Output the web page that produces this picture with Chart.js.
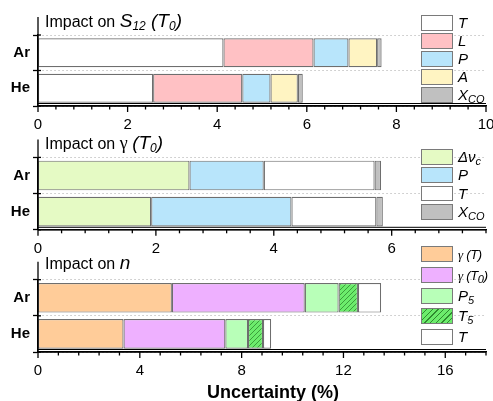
<!DOCTYPE html>
<html>
<head>
<meta charset="utf-8">
<script src="https://cdn.jsdelivr.net/npm/chart.js@4.4.0/dist/chart.umd.min.js"></script>
<style>
    body { margin: 0; background: #fff; width: 493px; height: 401px; position: relative; overflow: hidden; font-family: "Liberation Sans", Arial, sans-serif; }
    .panel { position: absolute; left: 0; }
    .titulo { position: absolute; left: 45px; font-size: 16px; line-height: 16px; white-space: nowrap; color: #000; }
    .titulo i { font-size: 19px; }
    .titulo sub { font-size: 12px; vertical-align: -3px; line-height: 0; }
    .item sub { font-size: 11px; vertical-align: -3px; line-height: 0; }
    .gam { font-family: "Liberation Serif", "DejaVu Serif", serif; }
    .titulo .gam { font-size: 18px; }
    .leyenda { position: absolute; left: 421px; top: 0; }
    .item { position: absolute; left: 0; white-space: nowrap; font-style: italic; font-size: 15px; color: #000; }
    .item .chico { font-size: 13px; letter-spacing: -0.3px; }
    .caja { position: absolute; left: 0; top: 0; width: 32px; border: 1.3px solid #7a7a7a; box-sizing: border-box; }
    .txt { position: absolute; left: 37px; top: 0; }
    #xtitulo { position: absolute; left: 207px; top: 383px; font-size: 18px; line-height: 18px; font-weight: bold; white-space: nowrap; }
</style>
</head>
<body>
<canvas id="g1" class="panel" width="493" height="130" style="top:0px"></canvas>
<canvas id="g2" class="panel" width="493" height="125" style="top:130px"></canvas>
<canvas id="g3" class="panel" width="493" height="146" style="top:255px"></canvas>

<div class="titulo" style="top:13px">Impact on <i>S<sub>12</sub> (T<sub>0</sub>)</i></div>
<div class="titulo" style="top:135px">Impact on <span class="gam">γ</span> <i>(T<sub>0</sub>)</i></div>
<div class="titulo" style="top:255px">Impact on <i>n</i></div>
<div id="xtitulo">Uncertainty (%)</div>

<div id="ley1" class="leyenda"></div>
<div id="ley2" class="leyenda"></div>
<div id="ley3" class="leyenda"></div>

<script>
var fuente = '"Liberation Sans", Arial, sans-serif';
var categorias = ['Ar', 'He'];

//IMPACTO EN S12 (T0)
var s12Nombres = ['T', 'L', 'P', 'A', 'X<sub>CO</sub>'];
var s12Colores = ['#ffffff', '#ffc1c4', '#b8e5fb', '#fff4c2', '#c0c0c0'];
var s12Ar = [4.14, 2.01, 0.78, 0.64, 0.10];
var s12He = [2.57, 1.99, 0.63, 0.61, 0.11];
var s12Ticks = [0, 2, 4, 6, 8, 10];

//IMPACTO EN GAMMA (T0)
var gamNombres = ['Δν<sub>c</sub>', 'P', 'T', 'X<sub>CO</sub>'];
var gamColores = ['#e5fac4', '#b8e5fb', '#ffffff', '#c0c0c0'];
var gamAr = [2.57, 1.26, 1.88, 0.11];
var gamHe = [1.92, 2.38, 1.44, 0.11];
var gamTicks = [0, 2, 4, 6];

//IMPACTO EN n
var nNombres = ['<span class="chico"><span class="gam">γ</span> (T)</span>', '<span class="chico"><span class="gam">γ</span> (T<sub>0</sub>)</span>', 'P<sub>5</sub>', 'T<sub>5</sub>', 'T'];
var nColores = ['#ffcc99', '#eeb0ff', '#b8ffb8', '#6cec6c', '#ffffff'];
var nTrama = [false, false, false, true, false];
var nAr = [5.26, 5.22, 1.33, 0.76, 0.91];
var nHe = [3.36, 4.00, 0.89, 0.59, 0.32];
var nTicks = [0, 4, 8, 12, 16];

//TRAMA DIAGONAL PARA T5
function hacerTrama(color) {
    var c = document.createElement('canvas');
    c.width = 5; c.height = 5;
    var g = c.getContext('2d');
    g.fillStyle = color;
    g.fillRect(0, 0, 5, 5);
    g.strokeStyle = '#2e8a2e';
    g.lineWidth = 0.8;
    g.beginPath();
    g.moveTo(0, 5); g.lineTo(5, 0);
    g.moveTo(-1, 1); g.lineTo(1, -1);
    g.moveTo(4, 6); g.lineTo(6, 4);
    g.stroke();
    return g.createPattern(c, 'repeat');
}

//EJES: EXTENSION DEL EJE Y, DOBLE LINEA Y MARCAS DEL EJE X
var pluginEjes = {
    id: 'ejes',
    afterDraw: function (chart, args, opts) {
        var ctx = chart.ctx, area = chart.chartArea, x = chart.scales.x, y = chart.scales.y;
        ctx.save();
        ctx.strokeStyle = '#000';
        ctx.lineWidth = 1.3;
        ctx.beginPath();
        ctx.moveTo(area.left, area.top - 18);
        ctx.lineTo(area.left, area.bottom);
        ctx.stroke();
        //MARCAS DEL EJE Y QUE CRUZAN HACIA ADENTRO
        for (var k = 0; k <= categorias.length; k++) {
            var py = area.top + k * (area.bottom - area.top) / categorias.length;
            ctx.beginPath();
            ctx.moveTo(area.left, py);
            ctx.lineTo(area.left + 3, py);
            ctx.stroke();
        }
        ctx.beginPath();
        ctx.moveTo(area.left, area.bottom);
        ctx.lineTo(area.right, area.bottom);
        ctx.stroke();
        ctx.lineWidth = 1;
        ctx.beginPath();
        ctx.moveTo(area.left, area.bottom - 2.5);
        ctx.lineTo(area.right, area.bottom - 2.5);
        ctx.stroke();
        ctx.lineWidth = 1.3;
        var n = Math.round(x.max / opts.pasoMenor);
        for (var i = 0; i <= n; i++) {
            var v = i * opts.pasoMenor;
            var px = x.getPixelForValue(v);
            var mayor = opts.ticksX.some(function (t) { return Math.abs(t - v) < 1e-6; });
            ctx.beginPath();
            ctx.moveTo(px, area.bottom);
            ctx.lineTo(px, area.bottom + (mayor ? 6 : 3.5));
            ctx.stroke();
        }
        ctx.restore();
    }
};

function crearGrafica(id, nombres, colores, trama, valAr, valHe, maxX, ticksX, pasoMenor, arriba, abajo) {
    var canvas = document.getElementById(id);
    var alto = canvas.height;
    var datasets = [];
    for (var i = 0; i < nombres.length; i++) {
        datasets.push({
            label: nombres[i],
            data: [valAr[i], valHe[i]],
            backgroundColor: (trama && trama[i]) ? hacerTrama(colores[i]) : colores[i],
            borderColor: '#6e6e6e',
            borderWidth: 1.2,
            borderSkipped: false,
            barPercentage: 0.82,
            categoryPercentage: 1
        });
    }
    return new Chart(canvas.getContext('2d'), {
        type: 'bar',
        data: { labels: categorias, datasets: datasets },
        options: {
            indexAxis: 'y',
            responsive: false,
            animation: false,
            layout: { padding: { top: arriba, right: 7, left: 0, bottom: 0 } },
            plugins: {
                legend: { display: false },
                tooltip: { enabled: false },
                ejes: { pasoMenor: pasoMenor, ticksX: ticksX }
            },
            scales: {
                x: {
                    stacked: true,
                    min: 0,
                    max: maxX,
                    afterBuildTicks: function (s) {
                        s.ticks = ticksX.map(function (v) { return { value: v }; });
                    },
                    ticks: { color: '#000', font: { family: fuente, size: 15 }, padding: 10, maxRotation: 0, autoSkip: false },
                    grid: { display: false, drawTicks: false },
                    border: { display: true, color: '#000', width: 1.3 },
                    afterFit: function (s) { s.height = alto - abajo; s.paddingLeft = 0; s.paddingRight = 0; }
                },
                y: {
                    stacked: true,
                    ticks: { color: '#000', font: { family: fuente, size: 15, weight: 'bold' }, padding: 3 },
                    grid: { offset: true, color: '#c4c4c4', lineWidth: 1, tickColor: '#000', tickLength: 5, tickWidth: 1.3 },
                    border: { color: '#000', width: 1.3, dash: [1.5, 2.5] },
                    afterFit: function (s) { s.width = 38; }
                }
            }
        },
        plugins: [pluginEjes]
    });
}

//LEYENDA EN HTML
function crearLeyenda(id, nombres, colores, trama, arriba, paso, alto) {
    var cont = document.getElementById(id);
    for (var i = 0; i < nombres.length; i++) {
        var fondo = colores[i];
        if (trama && trama[i]) {
            fondo = 'repeating-linear-gradient(-45deg, ' + colores[i] + ' 0 3px, #2e8a2e 3px 4px)';
        }
        var item = document.createElement('div');
        item.className = 'item';
        item.style.top = (arriba + i * paso) + 'px';
        item.innerHTML = '<div class="caja" style="background:' + fondo + ';height:' + alto + 'px"></div>' +
            '<span class="txt" style="line-height:' + alto + 'px">' + nombres[i] + '</span>';
        cont.appendChild(item);
    }
}

crearGrafica('g1', s12Nombres, s12Colores, null, s12Ar, s12He, 10, s12Ticks, 0.4, 35, 106);
crearGrafica('g2', gamNombres, gamColores, null, gamAr, gamHe, 7.6, gamTicks, 0.4, 27.4, 99.8);
crearGrafica('g3', nNombres, nColores, nTrama, nAr, nHe, 17.6, nTicks, 0.8, 24.7, 97);

crearLeyenda('ley1', s12Nombres, s12Colores, null, 15, 18, 16);
crearLeyenda('ley2', gamNombres, gamColores, null, 149, 18.4, 15.5);
crearLeyenda('ley3', nNombres, nColores, nTrama, 246, 20.8, 16);
</script>
</body>
</html>
